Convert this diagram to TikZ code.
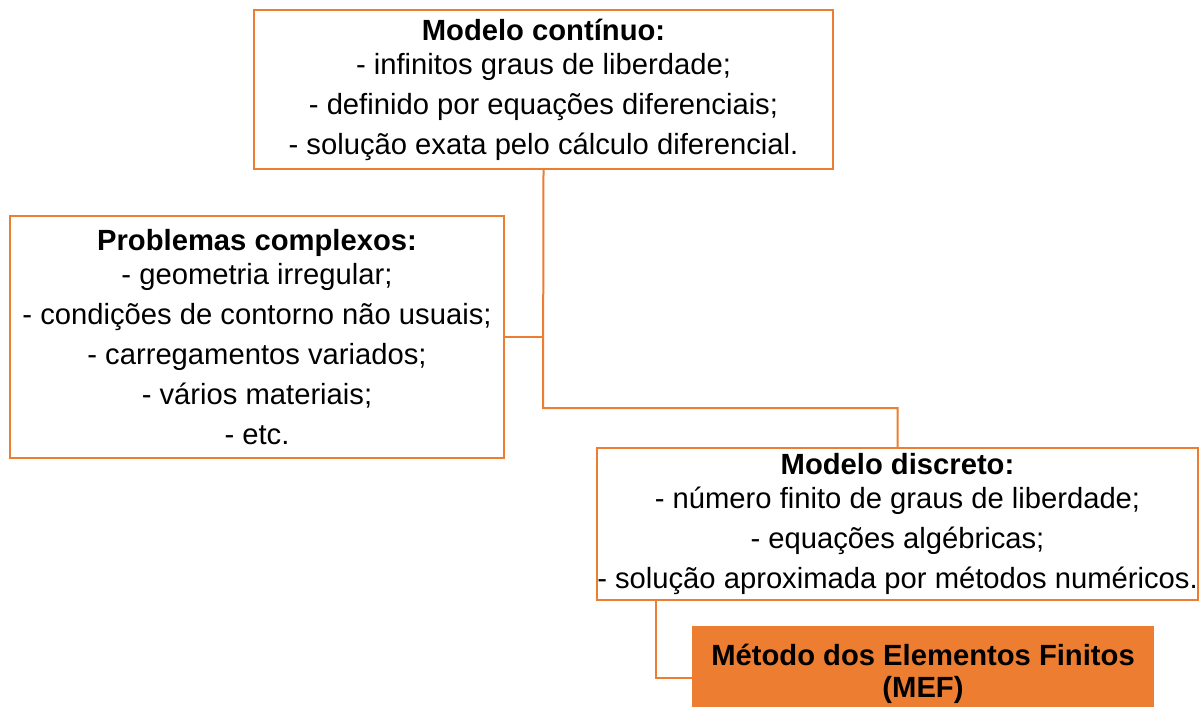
\documentclass[tikz,border=0pt]{standalone}
\usepackage{fontspec}
\setmainfont{Liberation Sans}
\definecolor{mefOrange}{RGB}{237,125,49}

\begin{document}
\begin{tikzpicture}[x=0.5pt,y=-0.5pt,
    box/.style={draw=mefOrange,line width=1pt,align=center,inner sep=0pt,
                font=\fontsize{14.6}{20}\selectfont},
    link/.style={draw=mefOrange,line width=1pt}]
    \useasboundingbox (0,0) rectangle (1202,706);

    \node [box,minimum width=289.5pt,minimum height=79.5pt] (continuo) at (543.5,89.5)
          {\textbf{Modelo contínuo:}\\[-3pt]
           - infinitos graus de liberdade;\\
           - definido por equações diferenciais;\\
           - solução exata pelo cálculo diferencial.};

    \node [box,minimum width=247pt,minimum height=121pt] (complexos) at (257,337)
          {\textbf{Problemas complexos:}\\[-3pt]
           - geometria irregular;\\
           - condições de contorno não usuais;\\
           - carregamentos variados;\\
           - vários materiais;\\
           - etc.};

    \node [box,minimum width=300.5pt,minimum height=76pt] (discreto) at (897.5,524)
          {\textbf{Modelo discreto:}\\[-3pt]
           - número finito de graus de liberdade;\\
           - equações algébricas;\\
           - solução aproximada por métodos numéricos.};

    \node [box,fill=mefOrange,minimum width=230pt,minimum height=47pt] (mef) at (923,674)
          {\textbf{Método dos Elementos Finitos}\\[-4pt]
           \textbf{(MEF)}};

    \coordinate (bend) at (543,408);
    \draw [link] (continuo.south) -- (bend) -| (discreto.north);
    \draw [link] (complexos.east) -- (complexos.east -| bend);
    \draw [link] ([xshift=30pt]discreto.south west) |- ([yshift=-2pt]mef.west);
\end{tikzpicture}
\end{document}
